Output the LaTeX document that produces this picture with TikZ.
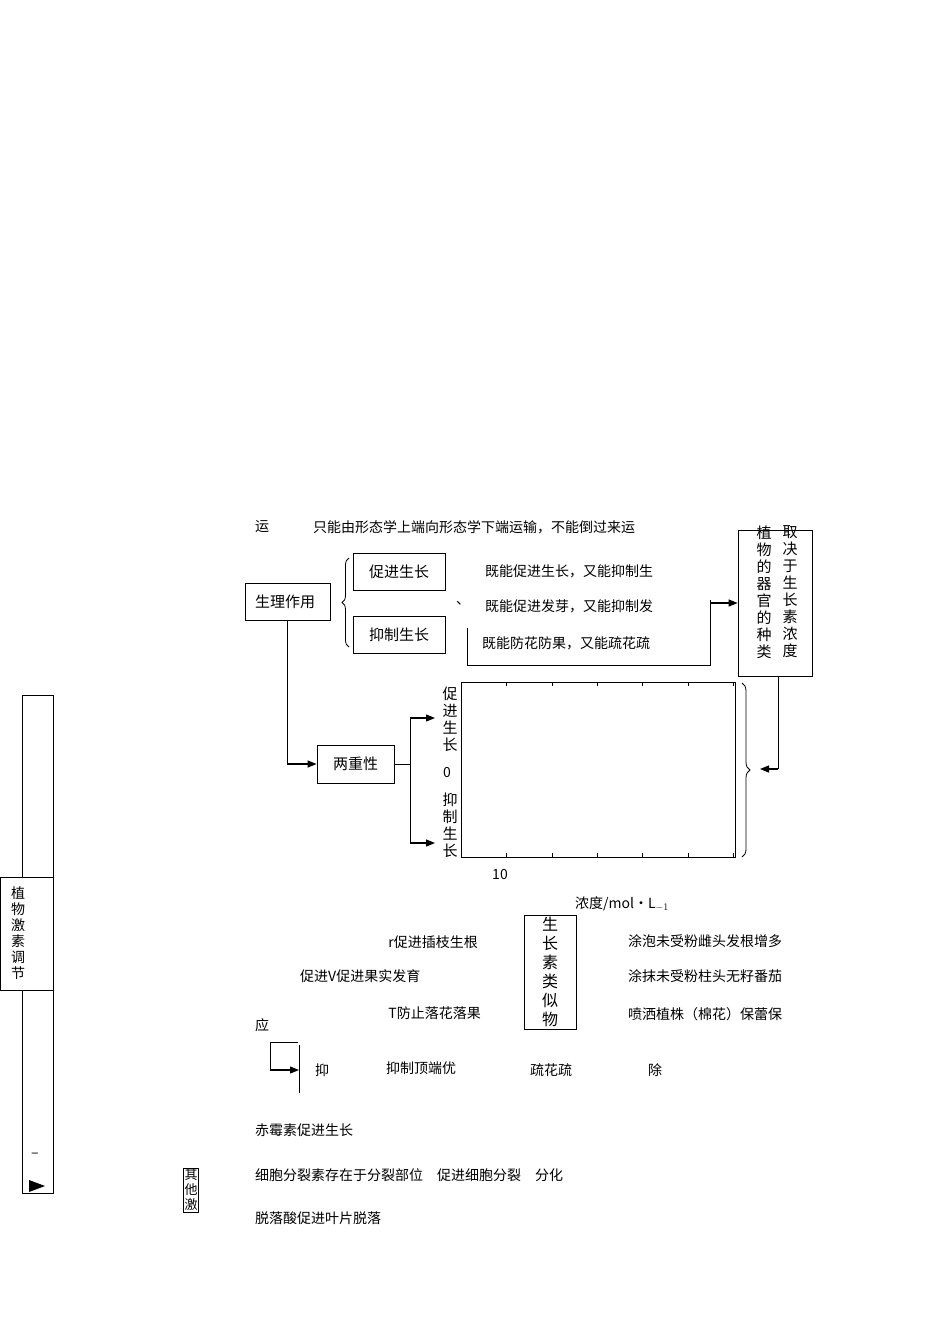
\documentclass[tikz,border=0pt]{standalone}
\usepackage{fontspec}
\setmainfont{Noto Sans CJK SC}
\usetikzlibrary{decorations.pathreplacing,arrows.meta}
\begin{document}
\begin{tikzpicture}[x=1pt,y=-1pt,
  box/.style={draw,line width=0.8pt,inner sep=0pt},
  t/.style={font=\fontsize{14}{14}\selectfont,inner sep=0pt},
  bt/.style={font=\fontsize{15}{15}\selectfont,inner sep=0pt},
  vt/.style={font=\fontsize{15}{17}\selectfont,align=center,inner sep=0pt},
  arr/.style={-{Triangle[length=9pt,width=7pt]},line width=1.2pt}]
\useasboundingbox (0,0) rectangle (950,1344);
% top
\node[t] (yun) at (262,527) {运};
\node[t,anchor=west] (top) at (313,527) {只能由形态学上端向形态学下端运输，不能倒过来运};
\node[box,minimum width=85,minimum height=37] (sl) at (287.5,601.5) {};
\node[bt] at (285,601.5) {生理作用};
\draw[line width=0.8pt,decorate,decoration={brace,amplitude=7pt}] (349,647) -- (349,558);
\node[box,minimum width=92,minimum height=37] (cj) at (399,571.5) {};
\node[bt] at (399,571.5) {促进生长};
\node[box,minimum width=92,minimum height=37] (yz) at (399,634.5) {};
\node[bt] at (399,634.5) {抑制生长};
\node[t,anchor=west] at (485,571) {既能促进生长，又能抑制生};
\node[t,anchor=west] at (485,606) {既能促进发芽，又能抑制发};
\node[t,anchor=west] at (482,643) {既能防花防果，又能疏花疏};
\node[t] at (463,603) {、};
\coordinate (b1) at (467,628); \coordinate (b2) at (467,665);
\coordinate (b3) at (710,665); \coordinate (b4) at (710,600);
\draw[line width=0.8pt] (b1) -- (b2) -- (b3) -- (b4);
\node[box,minimum width=74,minimum height=146] (rb) at (775,603) {};
\node[vt] at (764,592) {植\\物\\的\\器\\官\\的\\种\\类};
\node[vt] at (790,592) {取\\决\\于\\生\\长\\素\\浓\\度};
\draw[arr] (710,603) -- (rb.west|-0,603);
% chart
\node[draw,line width=0.8pt,minimum width=274,minimum height=175,inner sep=0pt] (ch) at (598,769.5) {};
\foreach \x in {506,552,597,642,688,733}{
  \draw (\x,682) -- (\x,686); \draw (\x,857) -- (\x,853);}
\draw[line width=0.8pt,decorate,decoration={brace,amplitude=8pt}] (742,683) -- (742,857);
\coordinate (rc) at (778,769);
\draw[line width=0.8pt] (rb.south-|rc) -- (rc);
\draw[arr] (rc) -- (760,769);
\node[vt] at (450,719) {促\\进\\生\\长};
\node[t] at (447,772) {0};
\node[vt] at (450,825) {抑\\制\\生\\长};
\node[t] at (500,874) {10};
\node[t] at (622,904) {浓度/mol•L$_{-1}$};
% liangchong
\node[box,minimum width=77,minimum height=38] (lc) at (355.5,764) {};
\node[bt] at (355.5,764) {两重性};
\coordinate (d1) at (287,764);
\draw[line width=0.8pt] (sl.south-|d1) -- (d1);
\draw[arr] (d1) -- (lc.west);
\coordinate (s1) at (410,764); \coordinate (s2) at (410,718); \coordinate (s3) at (410,843);
\draw[line width=0.8pt] (lc.east) -- (s1) (s2) -- (s3);
\draw[arr] (s2) -- (435,718);
\draw[arr] (s3) -- (435,843);
% left tab
\node[draw,minimum width=31,minimum height=498,inner sep=0pt] (tab) at (37.5,944) {};
\node[draw,fill=white,minimum width=53,minimum height=113,inner sep=0pt] (tab2) at (26.5,933.5) {};
\node[vt,font=\fontsize{14}{16}\selectfont] at (18,933) {植\\物\\激\\素\\调\\节};
\node[t] at (35,1155) {–};
\fill (29,1180) -- (45,1186) -- (29,1192) -- cycle;
% analog box
\node[box,minimum width=52,minimum height=114] (an) at (550,972) {};
\node[vt,font=\fontsize{16}{19}\selectfont] at (550,972) {生\\长\\素\\类\\似\\物};
\node[t,anchor=east] at (478,942) {r促进插枝生根};
\node[t,anchor=west] at (300,976) {促进V促进果实发育};
\node[t,anchor=east] at (481,1013) {T防止落花落果};
\node[t,anchor=west] at (628,941) {涂泡未受粉雌头发根增多};
\node[t,anchor=west] at (628,976) {涂抹未受粉柱头无籽番茄};
\node[t,anchor=west] at (628,1014) {喷洒植株（棉花）保蕾保};
\node[t] at (262,1025) {应};
\coordinate (k1) at (298,1042); \coordinate (k2) at (270,1042); \coordinate (k3) at (270,1070);
\draw[line width=0.8pt] (k1) -- (k2) -- (k3);
\draw[arr] (k3) -- (299,1070);
\coordinate (v1) at (299,1045); \coordinate (v2) at (299,1093);
\draw[line width=0.8pt] (v1) -- (v2);
\node[t] at (322,1070) {抑};
\node[t,anchor=west] at (386,1068) {抑制顶端优};
\node[t,anchor=west] at (530,1070) {疏花疏};
\node[t] at (655,1070) {除};
\node[t,anchor=west] at (255,1130) {赤霉素促进生长};
\node[t,anchor=west] at (255,1175) {细胞分裂素存在于分裂部位\quad 促进细胞分裂\quad 分化};
\node[t,anchor=west] at (255,1218) {脱落酸促进叶片脱落};
\node[draw,inner sep=1pt,font=\fontsize{13}{15}\selectfont,align=center] (qt) at (191,1190) {其\\他\\激};
\end{tikzpicture}
\end{document}
